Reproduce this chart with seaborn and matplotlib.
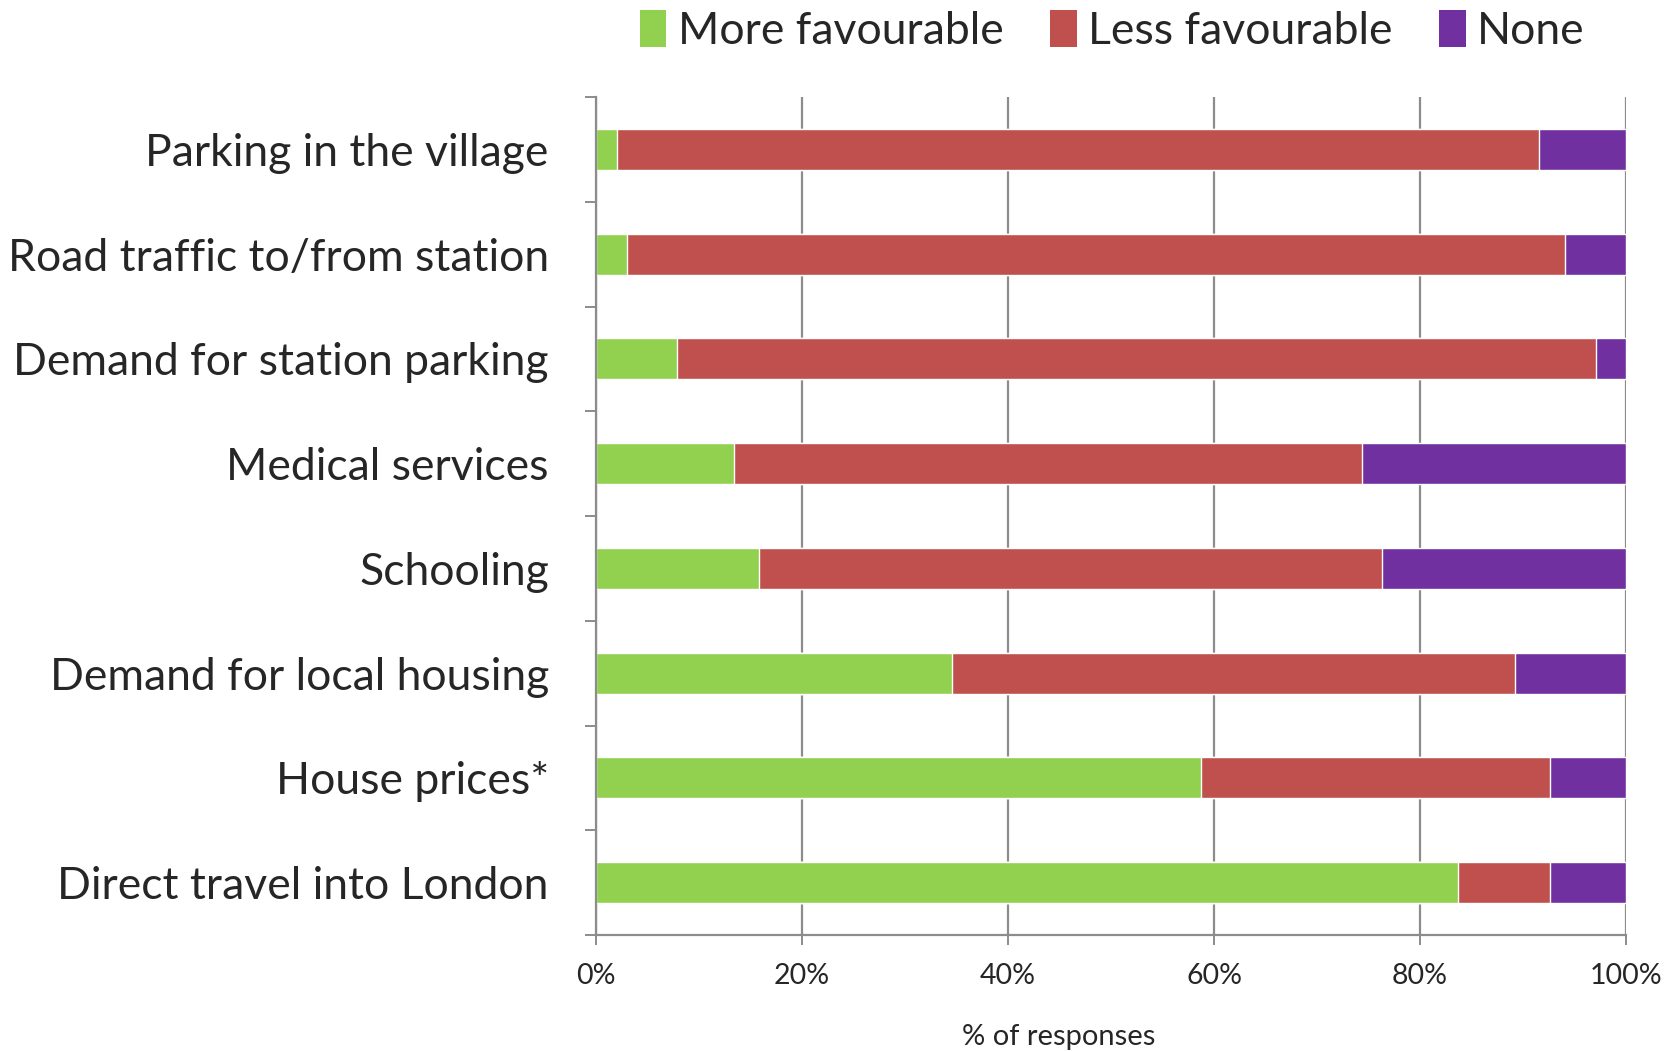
import numpy as np
import pandas as pd
import matplotlib
matplotlib.use("Agg")
import matplotlib.pyplot as plt
import seaborn as sns
from matplotlib.patches import Patch

# data (percent of responses)
categories = [
    "Parking in the village",
    "Road traffic to/from station",
    "Demand for station parking",
    "Medical services",
    "Schooling",
    "Demand for local housing",
    "House prices*",
    "Direct travel into London",
]
more_favourable = [2.0, 3.0, 7.9, 13.4, 15.8, 34.6, 58.7, 83.7]
less_favourable = [89.6, 91.1, 89.2, 61.0, 60.5, 54.6, 33.9, 8.9]
none = [8.4, 5.9, 2.9, 25.6, 23.7, 10.8, 7.4, 7.4]

series_names = ["More favourable", "Less favourable", "None"]
colors = ["#92D050", "#C0504D", "#7030A0"]
x_ticks = [0, 20, 40, 60, 80, 100]
x_tick_labels = ["0%", "20%", "40%", "60%", "80%", "100%"]

sns.set_theme(style="white")
plt.rcParams["font.family"] = ["Lato", "DejaVu Sans"]

df = pd.DataFrame({
    "category": categories,
    "more": more_favourable,
    "less": less_favourable,
    "none": none,
})
# cumulative ends for stacking (drawn back to front)
df["end_less"] = df["more"] + df["less"]
df["end_none"] = df["end_less"] + df["none"]

W, H = 1678, 1051
fig = plt.figure(figsize=(W / 100, H / 100), dpi=100)
ax = fig.add_axes([596 / W, 1 - 935 / H, (1626 - 596) / W, (935 - 97) / H])

grid_col = "#8c8c8c"
ax.set_axisbelow(True)
ax.grid(axis="x", color=grid_col, lw=1.6)

bw = 0.39
sns.barplot(data=df, x="end_none", y="category", color=colors[2], width=bw,
            saturation=1, ax=ax, orient="h")
sns.barplot(data=df, x="end_less", y="category", color=colors[1], width=bw,
            saturation=1, ax=ax, orient="h")
sns.barplot(data=df, x="more", y="category", color=colors[0], width=bw,
            saturation=1, ax=ax, orient="h")

ax.set_xlim(0, 100)
ax.set_ylim(len(categories) - 0.5, -0.5)
ax.set_xticks(x_ticks)
ax.set_xticklabels(x_tick_labels, fontsize=20.5)
ax.set_yticks(range(len(categories)))
ax.set_yticklabels(categories, fontsize=32)
ax.set_yticks(np.arange(-0.5, len(categories), 1), minor=True)
ax.tick_params(axis="y", which="major", length=0, pad=34)
ax.tick_params(axis="y", which="minor", length=8, width=1.4, color=grid_col, left=True)
ax.tick_params(axis="x", which="major", length=7, width=1.4, color=grid_col,
               bottom=True, pad=13)
ax.set_xlabel("")
ax.set_ylabel("")

for s in ["top", "right"]:
    ax.spines[s].set_visible(False)
for s in ["left", "bottom"]:
    ax.spines[s].set_color(grid_col)
    ax.spines[s].set_linewidth(1.6)

fig.text(1059 / W, 1 - 1037 / H, "% of responses", ha="center", va="center",
         fontsize=21)

handles = [Patch(facecolor=c, edgecolor="none") for c in colors]
fig.legend(handles, series_names, loc="center", bbox_to_anchor=(1112 / W, 1 - 31 / H),
           ncol=3, frameon=False, fontsize=32, handlelength=0.6, handleheight=0.9,
           handletextpad=0.25, columnspacing=1.05)

fig.savefig("out.png", dpi=100)
